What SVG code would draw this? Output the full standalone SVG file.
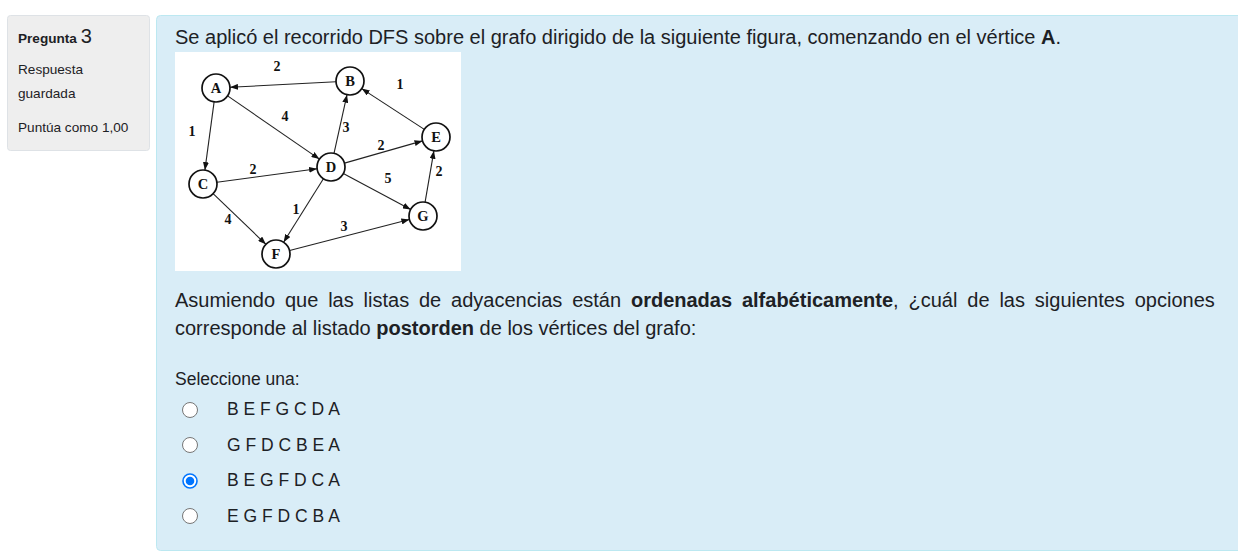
<svg xmlns="http://www.w3.org/2000/svg" width="1238" height="559" viewBox="0 0 1238 559">
<style>
.sans{font-family:"Liberation Sans",Arial,sans-serif;fill:#1d2125}
.side{font-size:13.6px}
.q{font-size:20px}
.opt{font-size:17.5px}
.b{font-weight:bold}
.node circle{fill:#fff;stroke:#111;stroke-width:1.7}
.node text{font-family:"Liberation Serif","Times New Roman",serif;font-weight:bold;font-size:14.5px;fill:#111;text-anchor:middle}
.w{font-family:"Liberation Serif","Times New Roman",serif;font-weight:bold;font-size:14px;fill:#111;text-anchor:middle}
.edges line{stroke:#222;stroke-width:1.1;marker-end:url(#arr)}
.radio{fill:#fff;stroke:#767676;stroke-width:1}
</style>
<defs>
<marker id="arr" markerUnits="userSpaceOnUse" markerWidth="8" markerHeight="6" refX="8" refY="3" orient="auto">
<path d="M0,0 L8,3 L0,6 z" fill="#111"/>
</marker>
</defs>
<rect width="1238" height="559" fill="#fff"/>
<g id="sidebar">
<rect x="7.5" y="15.5" width="142" height="135" rx="3" fill="#eee" stroke="#dee2e6"/>
<text class="sans side" x="18" y="43"><tspan class="b">Pregunta</tspan> <tspan font-size="20px" font-weight="500">3</tspan></text>
<text class="sans side" x="18" y="74">Respuesta</text>
<text class="sans side" x="18" y="98">guardada</text>
<text class="sans side" x="18" y="132">Puntúa como 1,00</text>
</g>
<g id="panel">
<rect x="156.5" y="15.5" width="1100" height="535" rx="4" fill="#d9edf7" stroke="#bce8f1"/>
<text class="sans q" x="175" y="44">Se aplicó el recorrido DFS sobre el grafo dirigido de la siguiente figura, comenzando en el vértice <tspan class="b">A</tspan>.</text>
<text class="sans q" x="175" y="307" word-spacing="4.3">Asumiendo que las listas de adyacencias están <tspan class="b">ordenadas</tspan> <tspan class="b">alfabéticamente</tspan>, ¿cuál de las siguientes opciones</text>
<text class="sans q" x="175" y="335">corresponde al listado <tspan class="b">postorden</tspan> de los vértices del grafo:</text>
<text class="sans opt" x="175" y="385">Seleccione una:</text>
</g>
<g id="figure">
<rect x="175" y="52" width="286" height="219" fill="#fff"/>
</g>
<g id="connectors" class="edges">
<line x1="336" y1="81.7" x2="230" y2="87.3"/>
<line x1="214.1" y1="101.9" x2="204.9" y2="170.1"/>
<line x1="227.6" y1="95.9" x2="319.4" y2="159.1"/>
<line x1="334" y1="153.3" x2="347" y2="94.7"/>
<line x1="424.3" y1="129.4" x2="361.7" y2="88.6"/>
<line x1="344.5" y1="163.1" x2="422.5" y2="140.9"/>
<line x1="216.9" y1="182.2" x2="317.1" y2="168.8"/>
<line x1="343.3" y1="173.6" x2="410.7" y2="209.4"/>
<line x1="425.1" y1="202.2" x2="433.9" y2="150.8"/>
<line x1="323.4" y1="178.8" x2="283.6" y2="242.2"/>
<line x1="213.1" y1="193.7" x2="265.9" y2="244.3"/>
<line x1="289.6" y1="250.5" x2="409.4" y2="219.5"/>
</g>
<g id="weights">
<text class="w" x="277" y="71">2</text>
<text class="w" x="192" y="136">1</text>
<text class="w" x="285" y="121">4</text>
<text class="w" x="346" y="132">3</text>
<text class="w" x="400" y="89">1</text>
<text class="w" x="381" y="150">2</text>
<text class="w" x="253" y="174">2</text>
<text class="w" x="388" y="183">5</text>
<text class="w" x="439" y="176">2</text>
<text class="w" x="296" y="214">1</text>
<text class="w" x="228" y="224">4</text>
<text class="w" x="344" y="231">3</text>
</g>
<g id="node-A" class="node"><circle cx="216" cy="88" r="14"/><text x="216" y="93">A</text></g>
<g id="node-B" class="node"><circle cx="350" cy="81" r="14"/><text x="350" y="86">B</text></g>
<g id="node-E" class="node"><circle cx="436" cy="137" r="14"/><text x="436" y="142">E</text></g>
<g id="node-D" class="node"><circle cx="331" cy="167" r="14"/><text x="331" y="172">D</text></g>
<g id="node-C" class="node"><circle cx="203" cy="184" r="14"/><text x="203" y="189">C</text></g>
<g id="node-G" class="node"><circle cx="423" cy="216" r="14"/><text x="423" y="221">G</text></g>
<g id="node-F" class="node"><circle cx="276" cy="254" r="14"/><text x="276" y="259">F</text></g>
<g id="options">
<circle class="radio" cx="190" cy="410" r="7.5"/>
<text class="sans opt" x="227" y="415">B E F G C D A</text>
<circle class="radio" cx="190" cy="445" r="7.5"/>
<text class="sans opt" x="227" y="451">G F D C B E A</text>
<circle cx="190" cy="481" r="7" fill="#fff" stroke="#0075ff" stroke-width="1.6"/>
<circle cx="190" cy="481" r="4.3" fill="#0075ff"/>
<text class="sans opt" x="227" y="486">B E G F D C A</text>
<circle class="radio" cx="190" cy="516" r="7.5"/>
<text class="sans opt" x="227" y="522">E G F D C B A</text>
</g>
</svg>
